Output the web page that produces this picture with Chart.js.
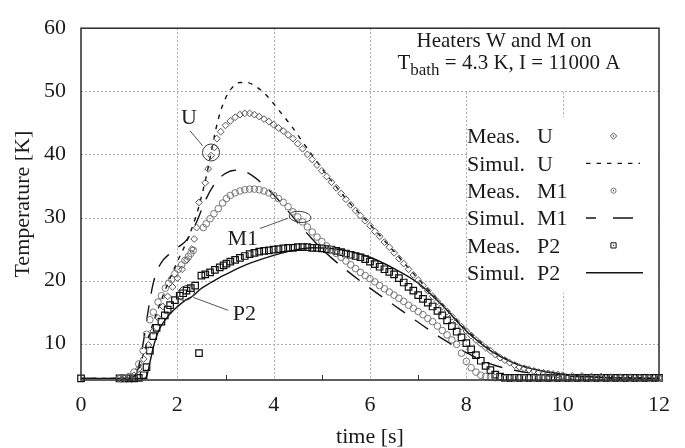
<!DOCTYPE html>
<html><head><meta charset="utf-8">
<script src="https://cdn.jsdelivr.net/npm/chart.js@4.4.1/dist/chart.umd.min.js"></script>
<style>html,body{margin:0;padding:0;background:#fff}canvas{display:block}</style>
</head><body>
<canvas id="c" width="685" height="448"></canvas>
<script>
// ---------- data (time [s], temperature [K]) ----------
const xTicks = [0, 2, 4, 6, 8, 10, 12];
const yTicks = [10, 20, 30, 40, 50, 60];
const seriesNames = ['U', 'M1', 'P2'];

const measU = [[0.8,4.5],[0.9,4.5],[1.0,4.6],[1.1,5.0],[1.2,6.0],[1.3,7.6],[1.4,9.8],[1.5,12.0],[1.6,14.1],[1.7,15.9],[1.8,17.5],[1.9,19.0],[2.0,20.4],[2.1,21.8],[2.2,23.3],[2.3,25.0],
 [2.35,26.6],[2.4,28.4],[2.45,32.4],[2.58,35.5],[2.64,37.7],[2.7,39.8],[2.77,41.1],[2.82,42.5],[2.9,43.6],
 [3.0,44.6],[3.1,45.3],[3.2,45.9],[3.3,46.3],[3.4,46.5],[3.5,46.5],[3.6,46.3],[3.7,46.0],[3.8,45.6],[3.9,45.2],
 [4.0,44.7],[4.1,44.2],[4.2,43.7],[4.3,43.1],[4.4,42.5],[4.5,41.7],[4.6,40.9],[4.7,40.0],[4.8,39.2],[4.9,38.3],
 [5.0,37.4],[5.1,36.5],[5.2,35.6],[5.3,34.7],[5.4,33.8],[5.5,32.9],[5.6,32.0],[5.7,31.1],[5.8,30.3],[5.9,29.5],
 [6.0,28.7],[6.1,27.8],[6.2,27.0],[6.3,26.1],[6.4,25.3],[6.5,24.4],[6.6,23.5],[6.7,22.7],[6.8,21.8],[6.9,20.9],
 [7.0,20.1],[7.1,19.2],[7.2,18.4],[7.3,17.5],[7.4,16.7],[7.5,15.9],[7.6,15.1],[7.7,14.3],[7.8,13.5],[7.9,12.7],
 [8.0,12.0],[8.1,11.3],[8.2,10.6],[8.3,10.0],[8.4,9.4],[8.5,8.9],[8.6,8.3],[8.7,7.8],[8.8,7.4],[8.9,7.0],
 [9.0,6.6],[9.1,6.3],[9.2,6.1],[9.3,5.9],[9.4,5.7],[9.5,5.5],[9.6,5.4],[9.7,5.3],[9.8,5.2],[9.9,5.1],[10.0,5.0],
 [10.2,4.9],[10.4,4.9],[10.6,4.8],[10.8,4.8],[11.0,4.7],[11.2,4.7],[11.4,4.7],[11.6,4.6],[11.8,4.6],[12.0,4.6]];

const simU = [[0,4.5],[1.0,4.5],[1.1,4.8],[1.2,6.0],[1.3,8.5],[1.4,11.0],[1.6,15.5],[1.8,19.5],[2.0,23.0],[2.2,26.3],[2.4,30.5],[2.5,33.3],[2.6,36.5],[2.7,40.2],[2.8,44.0],[2.9,46.9],[3.0,48.9],[3.13,50.5],[3.3,51.4],[3.45,51.4],[3.6,50.9],[3.78,49.9],[3.96,48.4],[4.16,46.5],[4.37,44.5],[4.6,42.0],[5.0,37.8],[5.5,33.0],[6.0,28.9],[6.5,24.6],[7.0,20.3],[7.5,16.2],[8.0,12.2],[8.5,9.1],[9.0,7.0],[9.5,5.8],[10.0,5.1],[10.5,4.8],[11.0,4.6],[12.0,4.5]];

const measM1 = [[0.8,4.5],[0.9,4.6],[1.0,4.8],[1.1,5.5],[1.2,6.8],[1.29,8.9],[1.36,11.5],[1.43,13.8],[1.5,15.0],[1.6,16.6],[1.67,17.6],[1.75,18.8],[1.82,19.6],[1.88,20.2],[1.95,21.1],[2.02,21.8],[2.09,22.5],[2.16,23.2],[2.23,23.8],[2.28,24.3],[2.33,24.8],
 [2.54,28.4],[2.6,29.0],[2.68,29.8],[2.76,30.6],[2.85,31.4],[2.94,32.3],[3.02,33.0],[3.1,33.5],[3.2,33.9],[3.3,34.2],[3.4,34.4],[3.5,34.5],[3.6,34.5],[3.7,34.4],[3.8,34.2],[3.9,33.9],
 [4.0,33.5],[4.1,33.0],[4.2,32.4],[4.3,31.7],[4.4,30.9],[4.5,30.1],[4.6,29.3],[4.7,28.5],[4.8,27.7],[4.9,26.9],
 [5.0,26.2],[5.1,25.5],[5.2,24.9],[5.3,24.3],[5.4,23.7],[5.5,23.1],[5.6,22.5],[5.7,21.9],[5.8,21.3],[5.9,20.8],
 [6.0,20.3],[6.1,19.8],[6.2,19.2],[6.3,18.7],[6.4,18.2],[6.5,17.7],[6.6,17.2],[6.7,16.7],[6.8,16.1],[6.9,15.6],
 [7.0,15.1],[7.1,14.6],[7.2,14.0],[7.3,13.5],[7.4,12.8],[7.5,12.1],[7.6,11.4],[7.7,10.6],[7.8,9.9],[7.9,8.5],
 [8.0,7.2],[8.1,6.2],[8.2,5.5],[8.3,5.0],[8.4,4.8],[8.5,4.7],[8.6,4.6],[8.8,4.5],[9.0,4.5],[9.2,4.5],[9.4,4.5],[9.6,4.5],[9.8,4.5],[10.0,4.5],[10.2,4.5],[10.4,4.5],[10.6,4.5],[10.8,4.5],[11.0,4.5],[11.2,4.5],[11.4,4.5],[11.6,4.5],[11.8,4.5],[12.0,4.5]];

const simM1 = [[0,4.5],[1.1,4.5],[1.2,6.5],[1.3,10.5],[1.4,15.5],[1.5,19.6],[1.6,21.9],[1.7,23.2],[1.85,24.3],[2.0,25.2],[2.2,26.5],[2.4,29.3],[2.6,33.0],[2.8,35.6],[3.0,37.0],[3.2,37.5],[3.4,37.3],[3.6,36.4],[3.8,35.1],[4.0,33.6],[4.2,31.9],[4.4,30.1],[4.6,28.3],[4.8,26.6],[5.0,25.0],[5.2,23.6],[5.5,21.7],[6.0,18.8],[6.5,16.1],[7.0,13.4],[7.5,10.8],[8.0,8.6],[8.5,6.8],[9.0,5.8],[9.5,5.2],[10.0,4.9],[11.0,4.6],[12.0,4.5]];

const measP2 = [[0,4.5],[0.8,4.5],[0.9,4.5],[1.0,4.5],[1.1,4.5],[1.2,4.6],[1.3,5.0],[1.36,6.3],[1.43,8.9],[1.5,11.2],[1.57,12.5],[1.67,13.5],[1.74,14.5],[1.8,15.4],[1.85,16.1],[1.95,16.9],[2.05,17.6],[2.12,18.0],[2.19,18.4],[2.28,18.8],[2.37,19.2],[2.45,8.5],
 [2.5,20.8],[2.58,21.0],[2.68,21.3],[2.78,21.7],[2.88,22.1],[2.96,22.4],[3.02,22.7],[3.1,23.0],[3.2,23.3],[3.3,23.6],[3.4,23.9],[3.5,24.2],[3.6,24.4],[3.7,24.6],[3.8,24.7],[3.9,24.8],
 [4.0,24.9],[4.1,25.0],[4.2,25.1],[4.3,25.2],[4.4,25.2],[4.5,25.3],[4.6,25.3],[4.7,25.3],[4.8,25.2],[4.9,25.2],
 [5.0,25.1],[5.1,25.0],[5.2,24.9],[5.3,24.7],[5.4,24.5],[5.5,24.3],[5.6,24.1],[5.7,23.9],[5.8,23.7],[5.9,23.4],
 [6.0,23.0],[6.1,22.6],[6.2,22.2],[6.3,21.8],[6.4,21.4],[6.5,21.0],[6.6,20.4],[6.7,19.7],[6.8,19.0],[6.9,18.4],
 [7.0,17.7],[7.1,17.1],[7.2,16.5],[7.3,15.9],[7.4,15.2],[7.5,14.5],[7.6,13.7],[7.7,12.8],[7.8,11.9],[7.9,11.0],
 [8.0,10.1],[8.1,9.1],[8.2,8.2],[8.3,7.3],[8.4,6.5],[8.5,5.8],[8.6,5.1],[8.7,4.8],[8.8,4.6],[8.9,4.6],[9.0,4.6],[9.1,4.6],[9.2,4.6],[9.3,4.6],[9.4,4.6],[9.5,4.6],[9.6,4.6],[9.7,4.6],[9.8,4.6],[9.9,4.6],[10.0,4.6],[10.1,4.6],[10.2,4.6],[10.3,4.6],[10.4,4.6],[10.5,4.6],[10.6,4.6],[10.7,4.6],[10.8,4.6],[10.9,4.6],[11.0,4.6],[11.1,4.6],[11.2,4.6],[11.3,4.6],[11.4,4.6],[11.5,4.6],[11.6,4.6],[11.7,4.6],[11.8,4.6],[11.9,4.6],[12.0,4.6]];

const simP2 = [[0,4.5],[1.3,4.5],[1.36,4.8],[1.43,7.0],[1.5,9.4],[1.57,11.2],[1.64,12.5],[1.8,14.3],[1.99,15.8],[2.15,16.8],[2.33,17.6],[2.47,18.6],[2.7,19.7],[2.9,20.6],[3.09,21.3],[3.3,22.1],[3.6,23.0],[4.0,24.0],[4.4,24.8],[4.8,25.2],[5.2,25.1],[5.6,24.6],[6.0,23.7],[6.5,21.9],[7.0,19.6],[7.5,16.1],[8.0,12.0],[8.5,8.9],[9.0,6.9],[9.5,5.8],[10.0,5.2],[10.5,4.8],[11.0,4.6],[12.0,4.5]];

// ---------- text ----------
const headerLine1 = 'Heaters W and M on';
const headerLine2 = ['T', 'bath', ' = 4.3 K, I = 11000 A'];
const callouts = [
  {text:'U',  at:[2.24,45.9],  ring:[2.7,40.3],  rx:8.5, ry:8.5, rot:0,    lead:[[2.263,43.75],[2.527,41.34]]},
  {text:'M1', at:[3.36,26.85], ring:[4.55,30.1], rx:11,  ry:5.5, rot:0.12, lead:[[3.716,28.26],[4.304,29.9]]},
  {text:'P2', at:[3.394,14.95],ring:[2.18,18.05],rx:9,   ry:7,   rot:-0.5, lead:[[2.331,17.34],[3.058,15.29]]}
];

const SERIF = '"Liberation Serif", "Times New Roman", serif';
const toXY = arr => arr.map(p => ({x: p[0], y: p[1]}));

const styles = {
  measU:  {pointStyle:'rectRot', pointRadius:3.4, borderColor:'#555555', bw:1},
  measM1: {pointStyle:'circle',  pointRadius:3.3, borderColor:'#777777', bw:1},
  measP2: {pointStyle:'rect',    pointRadius:4.6, borderColor:'#111111', bw:1.2},
};

function measSet(label, arr, st){
  return {label, data: toXY(arr), showLine:false, pointStyle:st.pointStyle, pointRadius:st.pointRadius,
    pointHoverRadius:st.pointRadius, borderColor:st.borderColor, pointBorderColor:st.borderColor,
    backgroundColor:'rgba(0,0,0,0)', pointBackgroundColor:'rgba(0,0,0,0)', pointBorderWidth:st.bw, clip:false};
}
function simSet(label, arr, dash){
  return {label, data: toXY(arr), showLine:true, pointRadius:0, pointHoverRadius:0, borderColor:'#151515',
    borderWidth:1.4, borderDash:dash, cubicInterpolationMode:'monotone', fill:false, clip:false};
}

const DASH_U = [4.5, 6];
const DASH_M1 = [16, 12];

const decor = {
  id: 'decor',
  beforeDatasetsDraw(chart){
    const {ctx, chartArea:a, scales:{x, y}} = chart;
    ctx.save();
    ctx.strokeStyle = '#ababab'; ctx.lineWidth = 1; ctx.setLineDash([2, 2]);
    xTicks.slice(1, -1).forEach(v => {
      const p = Math.round(x.getPixelForValue(v)) + 0.5;
      ctx.beginPath(); ctx.moveTo(p, a.top); ctx.lineTo(p, a.bottom); ctx.stroke();
    });
    yTicks.slice(0, -1).forEach(v => {
      const p = Math.round(y.getPixelForValue(v)) + 0.5;
      ctx.beginPath(); ctx.moveTo(a.left, p); ctx.lineTo(a.right, p); ctx.stroke();
    });
    ctx.setLineDash([]);
    ctx.fillStyle = '#fff';
    const y50 = Math.round(y.getPixelForValue(50));
    ctx.fillRect(380, a.top + 1, a.right - 380 - 1, y50 - a.top - 1.5);
    ctx.fillRect(468, 117, a.right - 468 - 1, 176);
    ctx.strokeStyle = '#333'; ctx.lineWidth = 1;
    for (let i = 0; i < xTicks.length - 1; i++) {
      const p = Math.round(x.getPixelForValue((xTicks[i] + xTicks[i+1]) / 2)) + 0.5;
      ctx.beginPath(); ctx.moveTo(p, a.bottom); ctx.lineTo(p, a.bottom - 5); ctx.stroke();
    }
    ctx.restore();
  },
  afterDatasetsDraw(chart){
    const {ctx, chartArea:a, scales:{x, y}} = chart;
    ctx.save();
    ctx.strokeStyle = '#2a2a2a'; ctx.lineWidth = 1.5;
    ctx.strokeRect(a.left, a.top, a.right - a.left, a.bottom - a.top);

    ctx.fillStyle = '#1a1a1a';
    ctx.textBaseline = 'alphabetic';
    ctx.font = '21px ' + SERIF;
    ctx.textAlign = 'center';
    ctx.fillText(headerLine1, 504, 47);
    ctx.textAlign = 'left';
    const wT = ctx.measureText(headerLine2[0]).width;
    const wRest = ctx.measureText(headerLine2[2]).width;
    ctx.font = '17px ' + SERIF;
    const wSub = ctx.measureText(headerLine2[1]).width;
    let sx = 509 - (wT + wSub + wRest) / 2;
    ctx.font = '21px ' + SERIF;
    ctx.fillText(headerLine2[0], sx, 68.5);
    ctx.font = '17px ' + SERIF;
    ctx.fillText(headerLine2[1], sx + wT, 75);
    ctx.font = '21px ' + SERIF;
    ctx.fillText(headerLine2[2], sx + wT + wSub, 68.5);

    ctx.font = '22px ' + SERIF;
    const ds = chart.data.datasets;
    for (let i = 0; i < ds.length; i++) {
      const base = 143.3 + i * 27.35;
      const cy = base - 7.3;
      const parts = ds[i].label.split(' ');
      ctx.fillStyle = '#1a1a1a';
      ctx.fillText(parts[0], 467, base);
      ctx.fillText(parts[parts.length - 1], 537, base);
      ctx.lineWidth = 1;
      if (!ds[i].showLine) {
        ctx.strokeStyle = ds[i].borderColor;
        const r = 2.6, cx = 613.5;
        ctx.beginPath();
        if (ds[i].pointStyle === 'rectRot') { ctx.moveTo(cx, cy - r - 0.6); ctx.lineTo(cx + r + 0.6, cy); ctx.lineTo(cx, cy + r + 0.6); ctx.lineTo(cx - r - 0.6, cy); ctx.closePath(); }
        else if (ds[i].pointStyle === 'circle') { ctx.arc(cx, cy, r, 0, Math.PI * 2); }
        else { ctx.rect(cx - r, cy - r, 2 * r, 2 * r); }
        ctx.stroke();
        ctx.fillStyle = '#333';
        ctx.fillRect(cx - 0.6, cy - 0.6, 1.2, 1.2);
      } else {
        ctx.strokeStyle = '#151515'; ctx.lineWidth = 1.4;
        if (ds[i].borderDash && ds[i].borderDash[0] > 10) {
          ctx.beginPath(); ctx.moveTo(586, cy); ctx.lineTo(596, cy); ctx.moveTo(613, cy); ctx.lineTo(633, cy); ctx.stroke();
        } else {
          ctx.setLineDash(ds[i].borderDash || []);
          ctx.beginPath(); ctx.moveTo(586, cy); ctx.lineTo(ds[i].borderDash && ds[i].borderDash.length ? 640 : 643, cy); ctx.stroke();
          ctx.setLineDash([]);
        }
      }
    }

    ctx.font = '22px ' + SERIF;
    ctx.textAlign = 'center';
    callouts.forEach(c => {
      const tx = x.getPixelForValue(c.at[0]), ty = y.getPixelForValue(c.at[1]);
      ctx.fillStyle = '#222';
      ctx.fillText(c.text, tx, ty + 7.3);
      ctx.strokeStyle = '#3a3a3a'; ctx.lineWidth = 1;
      ctx.beginPath();
      ctx.ellipse(x.getPixelForValue(c.ring[0]), y.getPixelForValue(c.ring[1]), c.rx, c.ry, c.rot, 0, Math.PI * 2);
      ctx.stroke();
      ctx.strokeStyle = '#555';
      ctx.beginPath();
      ctx.moveTo(x.getPixelForValue(c.lead[0][0]), y.getPixelForValue(c.lead[0][1]));
      ctx.lineTo(x.getPixelForValue(c.lead[1][0]), y.getPixelForValue(c.lead[1][1]));
      ctx.stroke();
    });
    ctx.restore();
  }
};

new Chart(document.getElementById('c'), {
  type: 'scatter',
  data: {
    datasets: [
      measSet('Meas.  ' + seriesNames[0], measU, styles.measU),
      simSet('Simul. ' + seriesNames[0], simU, DASH_U),
      measSet('Meas.  ' + seriesNames[1], measM1, styles.measM1),
      simSet('Simul. ' + seriesNames[1], simM1, DASH_M1),
      measSet('Meas.  ' + seriesNames[2], measP2, styles.measP2),
      simSet('Simul. ' + seriesNames[2], simP2, [])
    ]
  },
  options: {
    responsive: false,
    animation: false,
    events: [],
    layout: {padding: {left: 0, right: 26, top: 18, bottom: 0}},
    plugins: {legend: {display: false}, tooltip: {enabled: false}},
    scales: {
      x: {
        type: 'linear', min: 0, max: 12,
        afterBuildTicks(s){ s.ticks = xTicks.map(v => ({value: v})); },
        afterFit(s){ s.height = 68; },
        grid: {display: false, drawTicks: false},
        border: {display: false},
        ticks: {font: {family: SERIF, size: 22}, color: '#1a1a1a', padding: 12, maxRotation: 0, autoSkip: false},
        title: {display: true, text: 'time [s]', font: {family: SERIF, size: 22, lineHeight: 1}, color: '#1a1a1a', padding: {top: 0, bottom: 0}}
      },
      y: {
        type: 'linear', min: 4.25, max: 60,
        afterBuildTicks(s){ s.ticks = yTicks.map(v => ({value: v})); },
        afterFit(s){ s.width = 81; },
        grid: {display: false, drawTicks: false},
        border: {display: false},
        ticks: {font: {family: SERIF, size: 22}, color: '#1a1a1a', padding: 15, autoSkip: false},
        title: {display: true, text: 'Temperature [K]', font: {family: SERIF, size: 22}, color: '#1a1a1a', padding: {top: 10, bottom: 0}}
      }
    }
  },
  plugins: [decor]
});
</script>
</body></html>
